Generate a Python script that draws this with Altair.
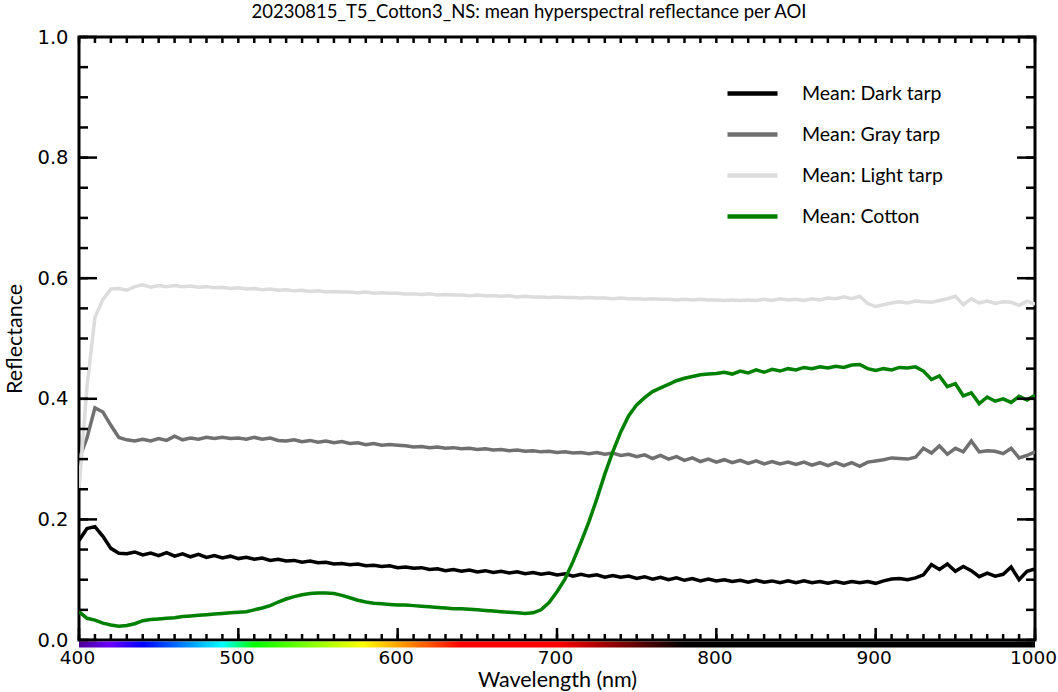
import altair as alt
import pandas as pd

wavelengths = [400, 405, 410, 415, 420, 425, 430, 435, 440, 445, 450, 455, 460, 465, 470, 475, 480, 485, 490, 495,
               500, 505, 510, 515, 520, 525, 530, 535, 540, 545, 550, 555, 560, 565, 570, 575, 580, 585, 590, 595,
               600, 605, 610, 615, 620, 625, 630, 635, 640, 645, 650, 655, 660, 665, 670, 675, 680, 685, 690, 695,
               700, 705, 710, 715, 720, 725, 730, 735, 740, 745, 750, 755, 760, 765, 770, 775, 780, 785, 790, 795,
               800, 805, 810, 815, 820, 825, 830, 835, 840, 845, 850, 855, 860, 865, 870, 875, 880, 885, 890, 895,
               900, 905, 910, 915, 920, 925, 930, 935, 940, 945, 950, 955, 960, 965, 970, 975, 980, 985, 990, 995,
               1000]

dark_tarp = [0.165, 0.185, 0.188, 0.172, 0.152, 0.144, 0.143, 0.146, 0.141, 0.144, 0.140, 0.145, 0.139, 0.143, 0.138, 0.142, 0.137, 0.140, 0.136, 0.139,
             0.135, 0.137, 0.134, 0.136, 0.132, 0.134, 0.131, 0.132, 0.129, 0.131, 0.128, 0.129, 0.126, 0.127, 0.125, 0.126, 0.123, 0.124, 0.122, 0.123,
             0.120, 0.121, 0.119, 0.120, 0.117, 0.118, 0.115, 0.117, 0.114, 0.116, 0.113, 0.115, 0.112, 0.114, 0.111, 0.113, 0.110, 0.112, 0.109, 0.111,
             0.108, 0.110, 0.106, 0.109, 0.106, 0.108, 0.104, 0.107, 0.104, 0.106, 0.102, 0.105, 0.101, 0.104, 0.100, 0.103, 0.099, 0.102, 0.098, 0.101,
             0.098, 0.100, 0.097, 0.099, 0.096, 0.099, 0.096, 0.098, 0.095, 0.098, 0.095, 0.098, 0.095, 0.097, 0.094, 0.097, 0.094, 0.097, 0.095, 0.097,
             0.094, 0.098, 0.101, 0.102, 0.100, 0.103, 0.108, 0.125, 0.117, 0.126, 0.114, 0.122, 0.115, 0.105, 0.111, 0.106, 0.109, 0.121, 0.100, 0.114,
             0.118]

gray_tarp = [0.300, 0.335, 0.385, 0.378, 0.356, 0.336, 0.332, 0.330, 0.333, 0.330, 0.334, 0.331, 0.338, 0.332, 0.335, 0.333, 0.336, 0.334, 0.336, 0.334,
             0.335, 0.333, 0.336, 0.333, 0.335, 0.331, 0.330, 0.332, 0.329, 0.331, 0.328, 0.330, 0.327, 0.329, 0.326, 0.327, 0.324, 0.326, 0.323, 0.324,
             0.323, 0.322, 0.320, 0.321, 0.319, 0.320, 0.318, 0.319, 0.317, 0.318, 0.316, 0.317, 0.315, 0.316, 0.314, 0.315, 0.313, 0.314, 0.312, 0.313,
             0.311, 0.312, 0.310, 0.311, 0.309, 0.311, 0.308, 0.310, 0.306, 0.308, 0.304, 0.307, 0.301, 0.306, 0.300, 0.304, 0.298, 0.302, 0.296, 0.300,
             0.295, 0.299, 0.294, 0.298, 0.293, 0.297, 0.292, 0.296, 0.292, 0.295, 0.291, 0.295, 0.290, 0.294, 0.289, 0.294, 0.289, 0.294, 0.288, 0.295,
             0.297, 0.299, 0.302, 0.301, 0.300, 0.303, 0.318, 0.310, 0.322, 0.308, 0.318, 0.312, 0.330, 0.312, 0.314, 0.313, 0.309, 0.318, 0.302, 0.306,
             0.312]

light_tarp = [0.250, 0.420, 0.535, 0.565, 0.582, 0.583, 0.580, 0.586, 0.589, 0.585, 0.588, 0.586, 0.588, 0.586, 0.587, 0.585, 0.586, 0.584, 0.585, 0.583,
              0.584, 0.582, 0.583, 0.581, 0.582, 0.580, 0.581, 0.579, 0.580, 0.578, 0.579, 0.577, 0.578, 0.577, 0.577, 0.576, 0.577, 0.575, 0.576, 0.575,
              0.575, 0.574, 0.574, 0.573, 0.574, 0.572, 0.573, 0.572, 0.572, 0.571, 0.572, 0.571, 0.571, 0.570, 0.571, 0.569, 0.570, 0.569, 0.569, 0.568,
              0.569, 0.568, 0.568, 0.567, 0.568, 0.567, 0.567, 0.566, 0.567, 0.566, 0.566, 0.565, 0.566, 0.565, 0.565, 0.564, 0.565, 0.564, 0.565, 0.564,
              0.564, 0.563, 0.564, 0.563, 0.564, 0.563, 0.565, 0.563, 0.566, 0.564, 0.565, 0.563, 0.566, 0.564, 0.567, 0.566, 0.569, 0.566, 0.570, 0.558,
              0.553, 0.556, 0.559, 0.561, 0.559, 0.562, 0.561, 0.560, 0.563, 0.566, 0.570, 0.556, 0.566, 0.559, 0.562, 0.558, 0.561, 0.560, 0.555, 0.562,
              0.557]

cotton = [0.047, 0.036, 0.033, 0.028, 0.025, 0.023, 0.024, 0.027, 0.032, 0.034, 0.035, 0.036, 0.037, 0.039, 0.040, 0.041, 0.042, 0.043, 0.044, 0.045,
          0.046, 0.047, 0.050, 0.053, 0.057, 0.063, 0.068, 0.072, 0.075, 0.077, 0.078, 0.078, 0.077, 0.074, 0.070, 0.066, 0.063, 0.061, 0.060, 0.059,
          0.058, 0.058, 0.057, 0.056, 0.055, 0.054, 0.053, 0.052, 0.052, 0.051, 0.050, 0.049, 0.048, 0.047, 0.046, 0.045, 0.044, 0.045, 0.050, 0.062,
          0.080, 0.101, 0.130, 0.162, 0.196, 0.234, 0.275, 0.312, 0.345, 0.372, 0.390, 0.402, 0.412, 0.418, 0.424, 0.430, 0.434, 0.437, 0.440, 0.441,
          0.442, 0.444, 0.441, 0.446, 0.443, 0.448, 0.444, 0.449, 0.446, 0.450, 0.448, 0.452, 0.450, 0.453, 0.451, 0.454, 0.452, 0.456, 0.457, 0.450,
          0.447, 0.450, 0.448, 0.452, 0.451, 0.453, 0.446, 0.432, 0.438, 0.420, 0.425, 0.405, 0.410, 0.392, 0.403, 0.396, 0.400, 0.394, 0.404, 0.398,
          0.406]

series_names = ["Mean: Dark tarp", "Mean: Gray tarp", "Mean: Light tarp", "Mean: Cotton"]
series_values = [dark_tarp, gray_tarp, light_tarp, cotton]
series_colors = ["#000000", "#707070", "#dcdcdc", "#008000"]

x_major_ticks = [400, 500, 600, 700, 800, 900, 1000]
x_minor_ticks = [400, 410, 420, 430, 440, 450, 460, 470, 480, 490, 500, 510, 520, 530, 540, 550, 560, 570, 580, 590,
                 600, 610, 620, 630, 640, 650, 660, 670, 680, 690, 700, 710, 720, 730, 740, 750, 760, 770, 780, 790,
                 800, 810, 820, 830, 840, 850, 860, 870, 880, 890, 900, 910, 920, 930, 940, 950, 960, 970, 980, 990, 1000]
y_major_ticks = [0.0, 0.2, 0.4, 0.6, 0.8, 1.0]
y_minor_ticks = [0.0, 0.05, 0.1, 0.15, 0.2, 0.25, 0.3, 0.35, 0.4, 0.45, 0.5, 0.55, 0.6, 0.65, 0.7, 0.75, 0.8, 0.85, 0.9, 0.95, 1.0]

spectrum_stops = [400, 420, 440, 490, 510, 578, 640, 700, 780, 1000]
spectrum_colors = ["#4b0096", "#6a00ff", "#0000ff", "#00ffff", "#00ff00", "#ffff00", "#ff0000", "#ff0000", "#000000", "#000000"]

W, H = 956, 603

rows = []
for name, vals in zip(series_names, series_values):
    for wl, v in zip(wavelengths, vals):
        rows.append({"wl": wl, "refl": v, "series": name})
df = pd.DataFrame(rows)

xscale = alt.Scale(domain=[400, 1000], nice=False, zero=False)
yscale = alt.Scale(domain=[0, 1], nice=False, zero=False)

x_axis = alt.Axis(values=x_major_ticks, ticks=False, domain=False, grid=False,
                  labelFont="DejaVu Sans", labelFontSize=18.5, labelPadding=8, labelFlush=False,
                  labelColor="black", format="d", labelOffset=-2,
                  title="Wavelength (nm)", titleFont="Lato", titleFontSize=21.5,
                  titleFontWeight="normal", titleColor="black", titlePadding=3)
y_axis = alt.Axis(values=y_major_ticks, ticks=False, domain=False, grid=False,
                  labelFont="DejaVu Sans", labelFontSize=19.5, labelPadding=11, labelFlush=False,
                  labelColor="black", format=".1f", labelOverlap=False,
                  title="Reflectance", titleFont="Lato", titleFontSize=21.5,
                  titleFontWeight="normal", titleColor="black", titlePadding=10)

lines = alt.Chart(df).mark_line(strokeWidth=3.5, clip=True).encode(
    x=alt.X("wl:Q", scale=xscale, axis=x_axis),
    y=alt.Y("refl:Q", scale=yscale, axis=y_axis),
    color=alt.Color("series:N",
                    scale=alt.Scale(domain=series_names, range=series_colors),
                    sort=series_names,
                    legend=alt.Legend(title=None, orient="none", legendX=646, legendY=29,
                                      symbolType="stroke", symbolSize=2500, symbolStrokeWidth=4.5,
                                      labelFont="Lato", labelFontSize=19.5, labelColor="black",
                                      labelOffset=22, rowPadding=4, padding=0)),
    order=alt.Order("wl:Q"),
)

grad = alt.Gradient(
    gradient="linear",
    stops=[alt.GradientStop(offset=(s - 400) / 600, color=c) for s, c in zip(spectrum_stops, spectrum_colors)],
    x1=0, x2=1, y1=0, y2=0,
)
spectrum = alt.Chart(pd.DataFrame({"start": [spectrum_stops[0]], "end": [spectrum_stops[-1]]})).mark_rect(
    fill=grad).encode(
    x=alt.X("start:Q", scale=xscale, axis=x_axis), x2="end:Q",
    y=alt.value(H + 1.5), y2=alt.value(H + 7.5))

def xticks(vals, y0, y1):
    return alt.Chart(pd.DataFrame({"t": vals})).mark_rule(color="black", strokeWidth=2.5).encode(
        x=alt.X("t:Q", scale=xscale, axis=x_axis), y=alt.value(y0), y2=alt.value(y1))

def yticks(vals, x0, x1):
    return alt.Chart(pd.DataFrame({"t": vals})).mark_rule(color="black", strokeWidth=2.5).encode(
        y=alt.Y("t:Q", scale=yscale, axis=y_axis), x=alt.value(x0), x2=alt.value(x1))

tick_layers = [
    xticks(x_minor_ticks, H, H - 6),
    xticks(x_major_ticks, H, H - 12),
    xticks(x_minor_ticks, 0, 6),
    yticks(y_minor_ticks, 0, 9),
    yticks(y_major_ticks, 0, 18),
    yticks(y_minor_ticks, W, W - 9),
    yticks(y_major_ticks, W, W - 18),
]

chart = alt.layer(lines, spectrum, *tick_layers).properties(
    width=W, height=H,
    title=alt.TitleParams("20230815_T5_Cotton3_NS: mean hyperspectral reflectance per AOI",
                          font="Lato", fontSize=18.5, fontWeight="normal", color="black",
                          anchor="middle", dx=-28, offset=6),
    autosize=alt.AutoSizeParams(type="none"),
    padding={"left": 79, "top": 37, "right": 1058 - 79 - W, "bottom": 692 - 37 - H},
).configure(background="white").configure_view(
    stroke="black", strokeWidth=3
)

chart.save("out.html", embed_options={"renderer": "svg", "actions": False})
